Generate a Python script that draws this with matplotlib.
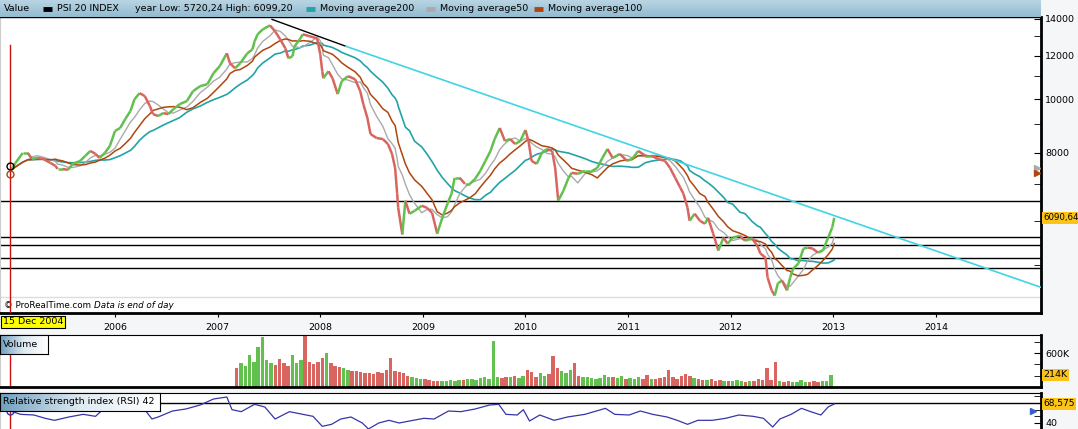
import numpy as np
import pandas as pd
import matplotlib.pyplot as plt
from matplotlib.collections import LineCollection
from matplotlib.colors import LinearSegmentedColormap
from matplotlib.ticker import NullFormatter

# PSI 20 closes (decimal years)
price_years = (
    [2004.98, 2005.03, 2005.10, 2005.15, 2005.19, 2005.24, 2005.30, 2005.37, 2005.42, 2005.44,
     2005.49, 2005.54, 2005.59, 2005.66, 2005.71, 2005.76, 2005.81, 2005.85, 2005.90, 2005.95]
    + [2006.00, 2006.05, 2006.10, 2006.15, 2006.19, 2006.24, 2006.29, 2006.34, 2006.37, 2006.42,
       2006.47, 2006.52, 2006.57, 2006.63, 2006.70, 2006.76, 2006.83, 2006.90, 2006.96]
    + [2007.02, 2007.09, 2007.12, 2007.17, 2007.22, 2007.29, 2007.34, 2007.36, 2007.39, 2007.44,
       2007.51, 2007.56, 2007.61, 2007.66, 2007.69, 2007.73, 2007.75, 2007.80, 2007.83, 2007.90, 2007.97]
    + [2008.00, 2008.02, 2008.03, 2008.08, 2008.12, 2008.17, 2008.21, 2008.27, 2008.34, 2008.39,
       2008.42, 2008.46, 2008.49, 2008.55, 2008.61, 2008.66, 2008.70, 2008.73, 2008.75, 2008.76,
       2008.80, 2008.83, 2008.87, 2008.92, 2008.99]
    + [2009.04, 2009.09, 2009.14, 2009.19, 2009.24, 2009.28, 2009.31, 2009.36, 2009.41, 2009.46,
       2009.51, 2009.56, 2009.61, 2009.66, 2009.70, 2009.75, 2009.80, 2009.85, 2009.90, 2009.95]
    + [2010.00, 2010.03, 2010.06, 2010.11, 2010.16, 2010.21, 2010.26, 2010.29, 2010.32, 2010.37,
       2010.42, 2010.45, 2010.51, 2010.58, 2010.65, 2010.70, 2010.75, 2010.80, 2010.85, 2010.92, 2010.99]
    + [2011.04, 2011.10, 2011.17, 2011.23, 2011.29, 2011.36, 2011.41, 2011.46, 2011.51, 2011.54,
       2011.58, 2011.60, 2011.65, 2011.70, 2011.75, 2011.78, 2011.83, 2011.88, 2011.93, 2011.97]
    + [2012.02, 2012.09, 2012.14, 2012.21, 2012.26, 2012.29, 2012.34, 2012.36, 2012.40, 2012.43,
       2012.46, 2012.50, 2012.55, 2012.58, 2012.61, 2012.66, 2012.71, 2012.75, 2012.80, 2012.85,
       2012.90, 2012.95, 2012.99, 2013.01]
)
price_values = (
    [7410, 7660, 7985, 7985, 7790, 7820, 7790, 7660, 7565, 7470,
     7470, 7440, 7630, 7725, 7890, 8055, 7955, 7820, 7985, 8225]
    + [8755, 8865, 9205, 9515, 10000, 10255, 10130, 9715, 9395, 9320,
       9435, 9395, 9595, 9795, 9920, 10340, 10560, 10645, 11150]
    + [11475, 12115, 11620, 11380, 11620, 12115, 12320, 12735, 13115, 13390,
       13615, 13280, 12840, 12370, 11865, 11965, 12475, 12840, 13115, 13005, 12895]
    + [12065, 11240, 10915, 11240, 10915, 10215, 10780, 11010, 10870, 10340,
       9795, 9240, 8645, 8500, 8465, 8290, 7955, 7500, 6735, 6350,
       5680, 6540, 6195, 6270, 6405]
    + [6350, 6220, 5700, 6090, 6460, 6735, 7195, 7195, 7020, 7020,
       7170, 7410, 7725, 8055, 8465, 8865, 8395, 8465, 8290, 8395]
    + [8790, 8395, 7725, 7630, 7985, 8120, 8055, 7500, 6540, 6820,
       7195, 7350, 7320, 7410, 7410, 7500, 7820, 8120, 7820, 7955, 7725]
    + [7790, 8055, 7890, 7890, 7790, 7725, 7500, 7195, 6905, 6735,
       6350, 6015, 6195, 6015, 5940, 6090, 5700, 5310, 5605, 5465]
    + [5605, 5650, 5535, 5580, 5420, 5245, 5155, 4745, 4495, 4400,
       4630, 4685, 4495, 4745, 4925, 5030, 5355, 5375, 5355, 5265,
       5310, 5605, 5845, 6090.64]
)

# horizontal support lines and the drawn trend line
support_levels = [6530, 5620, 5440, 5155, 4945]
trend_years = [2007.53, 2008.25, 2015.03]
trend_values = [13960, 12475, 4550]

# volume in thousands, half-month steps starting March 2007
vol_start = 2007.17
volume_k = [
    330, 420, 380, 560, 450, 700, 880, 480, 420, 390, 500, 430, 380, 560, 420, 470, 900, 450, 400, 440,
    520, 600, 420, 380, 360, 330, 300, 280, 290, 260, 240, 250, 230, 260, 240, 300, 520, 280, 260, 240,
    200, 180, 160, 150, 140, 120, 110, 110, 100, 110, 120, 110, 130, 120, 150, 140, 130, 160, 180, 150,
    810, 170, 160, 180, 170, 200, 160, 190, 300, 260, 180, 240, 200, 230, 550, 330, 280, 250, 300, 420,
    200, 180, 170, 160, 150, 160, 220, 180, 170, 160, 200, 150, 160, 150, 170, 140, 220, 150, 140, 160,
    180, 300, 170, 150, 200, 230, 190, 160, 150, 130, 120, 140, 110, 120, 100, 110, 100, 120, 110, 90,
    100, 110, 150, 120, 330, 130, 440, 110, 90, 100, 80, 90, 130, 90, 80, 100, 90, 100, 110, 214,
]

# RSI
rsi_years = (
    [2004.98, 2005.08, 2005.21, 2005.32, 2005.41, 2005.55, 2005.69, 2005.81, 2005.88, 2005.99]
    + [2006.16, 2006.29, 2006.36, 2006.42, 2006.56, 2006.69, 2006.83, 2006.96]
    + [2007.09, 2007.14, 2007.23, 2007.36, 2007.46, 2007.56, 2007.70, 2007.83, 2007.93]
    + [2008.02, 2008.11, 2008.20, 2008.30, 2008.41, 2008.47, 2008.57, 2008.67, 2008.77, 2008.87]
    + [2009.01, 2009.11, 2009.25, 2009.37, 2009.51, 2009.65, 2009.74, 2009.81, 2009.92, 2009.98]
    + [2010.04, 2010.14, 2010.28, 2010.41, 2010.58, 2010.78, 2010.87]
    + [2011.01, 2011.12, 2011.24, 2011.38, 2011.48, 2011.58, 2011.68, 2011.82, 2011.95]
    + [2012.08, 2012.22, 2012.32, 2012.41, 2012.48, 2012.59, 2012.69, 2012.78, 2012.88, 2012.95, 2013.01]
)
rsi_values = (
    [58, 53, 52, 47, 44, 49, 53, 50, 60, 61]
    + [58, 60, 46, 49, 58, 61, 67, 76]
    + [79, 60, 57, 68, 64, 46, 57, 53, 50]
    + [35, 38, 46, 49, 40, 31, 40, 44, 40, 43]
    + [47, 46, 58, 57, 61, 67, 68, 53, 52, 60]
    + [43, 52, 44, 49, 53, 62, 53]
    + [52, 58, 53, 49, 44, 38, 44, 44, 47]
    + [52, 50, 47, 34, 46, 53, 62, 57, 52, 64, 68.575]
)

year_ticks = [2006, 2007, 2008, 2009, 2010, 2011, 2012, 2013, 2014]
cursor_year = 2004.98

GREEN = "#62c04e"
RED = "#d8655f"
TEAL = "#22a3a8"
GREY = "#aaaaaa"
BROWN = "#b0460e"
CYAN = "#40d4e4"
LABEL_BG = "#fcc419"

W, H = 1078, 429
X0, X1 = 2004.879, 2015.025


def rect(x0, y0, x1, y1):
    return [x0 / W, 1 - y1 / H, (x1 - x0) / W, (y1 - y0) / H]


fig = plt.figure(figsize=(W / 100, H / 100), dpi=100, facecolor="#f4f6f8")

# moving averages (trading-day windows turned into calendar windows)
px = np.array(price_years)
py = np.array(price_values, dtype=float)
idx = pd.Timestamp("2004-01-01") + pd.to_timedelta((px - 2004) * 365.25, unit="D")
close = pd.Series(py, index=idx)
ma50 = close.rolling("73D").mean().values
ma100 = close.rolling("145D").mean().values
ma200 = close.rolling("290D").mean().values

# ---------------- main price panel ----------------
ax = fig.add_axes(rect(0, 17, 1041, 313))
ax.set_facecolor("white")
ax.set_yscale("log")
ax.set_xlim(X0, X1)
ax.set_ylim(4090, 14100)

for lvl in support_levels:
    ax.axhline(lvl, color="black", lw=1, zorder=2)

ax.plot(px, ma200, color=TEAL, lw=1.2, zorder=3)
ax.plot(px, ma50, color=GREY, lw=1.0, zorder=3)
ax.plot(px, ma100, color=BROWN, lw=1.1, zorder=3)

segs = np.stack([np.column_stack([px[:-1], py[:-1]]),
                 np.column_stack([px[1:], py[1:]])], axis=1)
cols = np.where(py[1:] >= py[:-1], GREEN, RED)
ax.add_collection(LineCollection(segs, colors=cols, linewidths=1.8, zorder=4))

ax.plot(trend_years[:2], trend_values[:2], color="black", lw=1, zorder=5)
ax.plot(trend_years[1:], trend_values[1:], color=CYAN, lw=1.2, zorder=5)

ax.axvline(cursor_year, ymax=0.905, color="#cc1111", lw=1, zorder=6)
ax.plot([cursor_year], [7565], "o", mfc="none", mec="black", ms=5, zorder=7)
ax.plot([cursor_year], [7320], "o", mfc="none", mec=BROWN, ms=5, zorder=7)

ax.plot([X1 - 0.04], [7500], ">", color=GREY, ms=5, clip_on=False, zorder=7)
ax.plot([X1 - 0.04], [7330], ">", color=BROWN, ms=5, clip_on=False, zorder=7)

ax.axhline(4380, color="#dddddd", lw=1, zorder=1)

ax.yaxis.tick_right()
ax.set_yticks([8000, 10000, 12000, 14000])
ax.set_yticklabels(["8000", "10000", "12000", "14000"])
ax.set_yticks([5000, 6000, 7000, 9000, 11000, 13000], minor=True)
ax.yaxis.set_minor_formatter(NullFormatter())
ax.tick_params(axis="y", which="both", direction="in", length=5, labelsize=6.8, pad=3)
ax.set_xticks(year_ticks)
ax.set_xticklabels([str(y) for y in year_ticks])
ax.tick_params(axis="x", direction="out", length=3, labelsize=6.8, pad=4)
ax.spines["right"].set_linewidth(2)
ax.spines["bottom"].set_linewidth(2)
ax.spines["top"].set_linewidth(1)
ax.spines["left"].set_color("#cccccc")

ax.text(0.004, 0.025, "\u00a9 ProRealTime.com", transform=ax.transAxes, fontsize=6.3,
        va="center")
ax.text(94 / 1041, 0.025, "Data is end of day", transform=ax.transAxes, fontsize=6.3,
        va="center", style="italic")
ax.text(1.002, (np.log(price_values[-1]) - np.log(4090)) / (np.log(14100) - np.log(4090)),
        "6090,64", transform=ax.transAxes, fontsize=6.2, va="center", ha="left",
        bbox=dict(boxstyle="square,pad=0.15", fc=LABEL_BG, ec="none"), clip_on=False)

fig.text(3 / W, 1 - 322 / H, "15 Dec 2004", fontsize=6.8, va="center", ha="left",
         bbox=dict(boxstyle="square,pad=0.2", fc="#ffff00", ec="black", lw=0.8))

# ---------------- header ----------------
hax = fig.add_axes(rect(0, 0, 1041, 17))
hax.imshow(np.linspace(0, 1, 64).reshape(-1, 1), aspect="auto",
           cmap=LinearSegmentedColormap.from_list("h", ["#b9d5e4", "#92bbd0"]),
           extent=[0, 1041, 17, 0])
hax.set_xlim(0, 1041)
hax.set_ylim(17, 0)
hax.axis("off")
hdr = [(4, None, "Value"), (57, "black", "PSI 20 INDEX"),
       (135, None, "year Low: 5720,24 High: 6099,20"),
       (320, TEAL, "Moving average200"), (440, GREY, "Moving average50"),
       (548, BROWN, "Moving average100")]
for x, c, t in hdr:
    if c is not None:
        hax.plot([x - 14, x - 5], [8.5, 8.5], color=c, lw=3.5, solid_capstyle="butt")
    hax.text(x, 8.5, t, fontsize=6.8, va="center", ha="left")

# ---------------- volume panel ----------------
vax = fig.add_axes(rect(0, 335, 1041, 387))
vax.set_facecolor("white")
vol_years = vol_start + np.arange(len(volume_k)) / 24
pos = np.clip(np.searchsorted(px, vol_years), 1, len(px) - 1)
vcols = np.where(py[pos] >= py[pos - 1], GREEN, RED)
vax.bar(vol_years, volume_k, width=0.8 / 24, color=vcols, align="edge")
vax.axvline(cursor_year, color="#cc1111", lw=1)
vax.set_xlim(X0, X1)
vax.set_ylim(0, 920)
vax.set_xticks([])
vax.yaxis.tick_right()
vax.set_yticks([600])
vax.set_yticklabels(["600K"])
vax.set_yticks([200, 400, 800], minor=True)
vax.tick_params(axis="y", which="both", direction="in", length=5, labelsize=6.8, pad=3)
vax.spines["right"].set_linewidth(2)
vax.spines["bottom"].set_linewidth(2)
vax.spines["top"].set_linewidth(0.8)
vax.spines["left"].set_color("#cccccc")
vax.text(1.002, volume_k[-1] / 920, f"{volume_k[-1]}K", transform=vax.transAxes,
         fontsize=6.8, va="center", ha="left",
         bbox=dict(boxstyle="square,pad=0.15", fc=LABEL_BG, ec="none"), clip_on=False)

# ---------------- RSI panel ----------------
rax = fig.add_axes(rect(0, 393, 1041, 431))
rax.set_facecolor("white")
rax.axhline(70, color="black", lw=1)
rax.axhline(30, color="black", lw=1)
rax.plot(rsi_years, rsi_values, color="#3535a8", lw=0.9)
rax.axvline(cursor_year, color="#cc1111", lw=1)
rax.plot([cursor_year], [rsi_values[0]], "o", mfc="none", mec="#3535a8", ms=5)
rax.plot([X1 - 0.08], [58], ">", color="#3a5fcd", ms=5, clip_on=False)
rax.set_xlim(X0, X1)
rax.set_ylim(28, 85)
rax.set_xticks([])
rax.yaxis.tick_right()
rax.set_yticks([40])
rax.set_yticklabels(["40"])
rax.set_yticks([50, 60, 70, 80], minor=True)
rax.tick_params(axis="y", which="both", direction="in", length=5, labelsize=6.8, pad=3)
rax.spines["right"].set_linewidth(2)
rax.spines["top"].set_linewidth(0.8)
rax.spines["left"].set_color("#cccccc")
rax.text(1.002, (rsi_values[-1] - 28) / 57, "68,575", transform=rax.transAxes,
         fontsize=6.5, va="center", ha="left",
         bbox=dict(boxstyle="square,pad=0.15", fc=LABEL_BG, ec="none"), clip_on=False)

# panel titles with the faded blue box
box_cmap = LinearSegmentedColormap.from_list("b", ["#6f9fbf", "#dfeaf1", "#ffffff"])
for (x0, y0, x1, y1), t in [((0, 335, 48, 354), "Volume"),
                            ((0, 393, 160, 411), "Relative strength index (RSI) 42")]:
    bax = fig.add_axes(rect(x0, y0, x1, y1))
    bax.imshow(np.linspace(0, 1, 128).reshape(1, -1), aspect="auto", cmap=box_cmap,
               extent=[0, 1, 0, 1])
    bax.set_xlim(0, 1)
    bax.set_ylim(0, 1)
    bax.set_xticks([])
    bax.set_yticks([])
    for s in bax.spines.values():
        s.set_linewidth(0.8)
    bax.text(3 / (x1 - x0), 0.5, t, fontsize=6.8, va="center", ha="left")

fig.savefig("out.png", dpi=100, facecolor=fig.get_facecolor())
